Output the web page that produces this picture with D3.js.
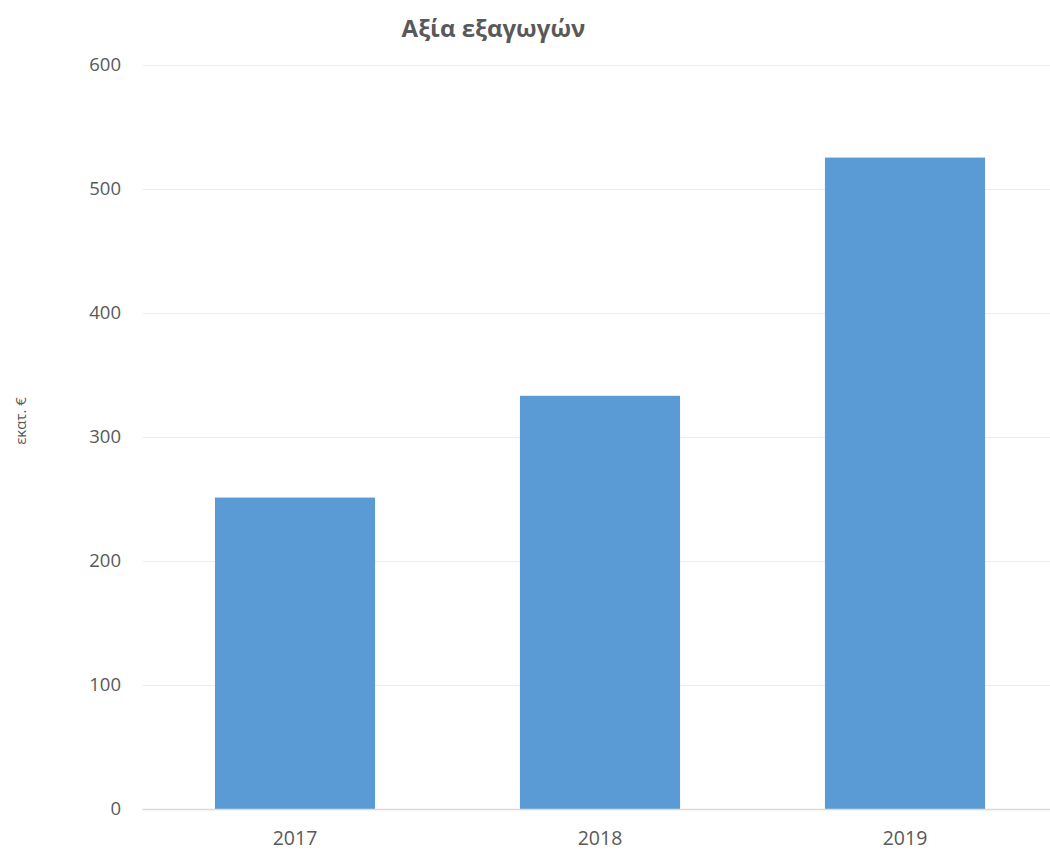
<!DOCTYPE html>
<html>
<head>
<meta charset="utf-8">
<script src="https://cdn.jsdelivr.net/npm/d3@7"></script>
<style>
body { margin: 0; background: #fff; }
svg { display: block; font-family: "Open Sans", sans-serif; }
</style>
</head>
<body>
<svg id="chart" width="1050" height="850"></svg>
<script>
const categories = ["2017", "2018", "2019"];
const values = [251, 333, 525];
const yTicks = [0, 100, 200, 300, 400, 500, 600];
const title = "Αξία εξαγωγών";
const yLabel = "εκατ. €";

(function () {
const svg = d3.select("#chart");
const mLeft = 142.5, mRight = 1057.5, mTop = 64.5, mBottom = 809;

const x = d3.scaleBand().domain(categories).range([mLeft, mRight]).paddingInner(0.475).paddingOuter(0.2375);
const y = d3.scaleLinear().domain([0, 600]).range([mBottom, mTop]);

// gridlines
svg.append("g").selectAll("line").data(yTicks.filter(d => d > 0)).join("line")
  .attr("x1", mLeft).attr("x2", 1050)
  .attr("y1", d => Math.round(y(d)) + 0.5).attr("y2", d => Math.round(y(d)) + 0.5)
  .attr("stroke", "#ededed").attr("stroke-width", 1);

// bars
svg.append("g").selectAll("rect").data(values).join("rect")
  .attr("x", (d, i) => x(categories[i]))
  .attr("width", x.bandwidth())
  .attr("y", d => y(d))
  .attr("height", d => y(0) - y(d))
  .attr("fill", "#5b9bd5");

// baseline
svg.append("line").attr("x1", mLeft).attr("x2", 1050)
  .attr("y1", mBottom + 0.5).attr("y2", mBottom + 0.5)
  .attr("stroke", "#d9d9d9").attr("stroke-width", 1.5);

// y axis labels
const yAxis = d3.axisLeft(y).tickValues(yTicks).tickSize(0).tickPadding(0);
const gy = svg.append("g").attr("transform", `translate(121,0)`).call(yAxis);
gy.select(".domain").remove();
gy.selectAll("text").attr("fill", "#595959").style("font-size", "18.5px").style("font-family", "'Open Sans', sans-serif");

// x axis labels
const xAxis = d3.axisBottom(x).tickSize(0).tickPadding(0);
const gx = svg.append("g").attr("transform", `translate(0,${mBottom + 22})`).call(xAxis);
gx.select(".domain").remove();
gx.selectAll("text").attr("fill", "#595959").style("font-size", "19.5px").style("font-family", "'Open Sans', sans-serif");

// title
svg.append("text").attr("x", 493.5).attr("y", 37).attr("text-anchor", "middle")
  .attr("fill", "#595959").style("font-size", "24px").style("font-weight", "bold").text(title);

// y label
svg.append("text").attr("transform", "translate(26,421) rotate(-90)").attr("text-anchor", "middle")
  .attr("fill", "#595959").style("font-size", "15px").text(yLabel);
})();
</script>
</body>
</html>
